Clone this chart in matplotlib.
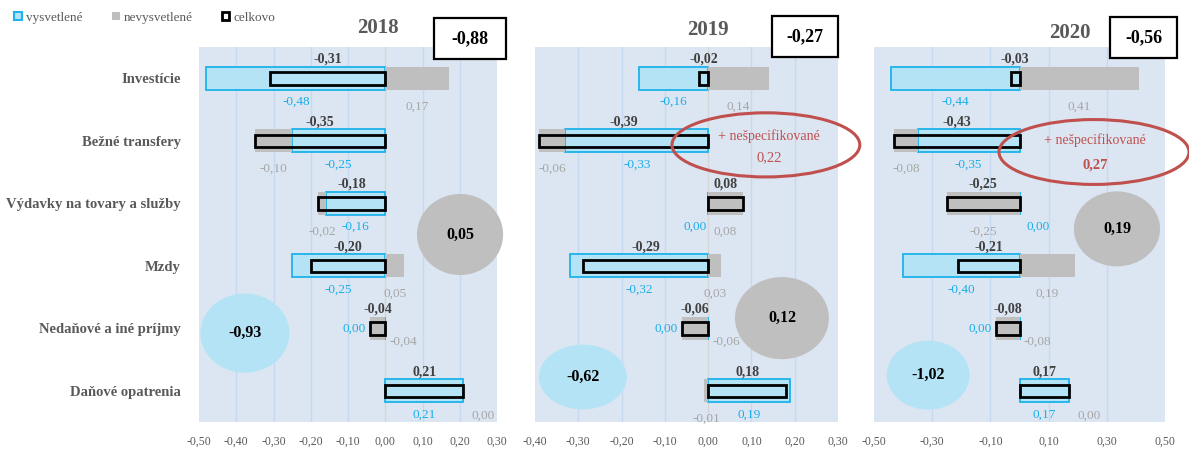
import matplotlib
matplotlib.use("Agg")
import matplotlib.pyplot as plt
from matplotlib.patches import Ellipse, Rectangle, Patch
from matplotlib.ticker import FuncFormatter, FixedLocator

plt.rcParams['font.family'] = ['Liberation Serif', 'DejaVu Serif']

# ---------------- data ----------------
categories = ["Investície", "Bežné transfery", "Výdavky na tovary a služby",
              "Mzdy", "Nedaňové a iné príjmy", "Daňové opatrenia"]
years = ["2018", "2019", "2020"]

explained_2018 = [-0.48, -0.25, -0.16, -0.25, 0.00, 0.21]
unexplained_2018 = [0.17, -0.10, -0.02, 0.05, -0.04, 0.00]
total_2018 = [-0.31, -0.35, -0.18, -0.20, -0.04, 0.21]

explained_2019 = [-0.16, -0.33, 0.00, -0.32, 0.00, 0.19]
unexplained_2019 = [0.14, -0.06, 0.08, 0.03, -0.06, -0.01]
total_2019 = [-0.02, -0.39, 0.08, -0.29, -0.06, 0.18]

explained_2020 = [-0.44, -0.35, 0.00, -0.40, 0.00, 0.17]
unexplained_2020 = [0.41, -0.08, -0.25, 0.19, -0.08, 0.00]
total_2020 = [-0.03, -0.43, -0.25, -0.21, -0.08, 0.17]

header_totals = [-0.88, -0.27, -0.56]
sum_explained = [-0.93, -0.62, -1.02]
sum_unexplained = [0.05, 0.12, 0.19]
unspecified = [None, 0.22, 0.27]

x_limits = [(-0.5, 0.3), (-0.4, 0.3), (-0.5, 0.5)]
x_ticks = [[-0.5, -0.4, -0.3, -0.2, -0.1, 0.0, 0.1, 0.2, 0.3],
           [-0.4, -0.3, -0.2, -0.1, 0.0, 0.1, 0.2, 0.3],
           [-0.5, -0.3, -0.1, 0.1, 0.3, 0.5]]

explained = [explained_2018, explained_2019, explained_2020]
unexplained = [unexplained_2018, unexplained_2019, unexplained_2020]
totals = [total_2018, total_2019, total_2020]

# ---------------- style ----------------
W, H = 1189, 453
BG = "#dce6f2"
GRID = "#c6d9f1"
BLUE_FILL = "#b5e3f6"
BLUE_EDGE = "#1db3ec"
BLUE_TXT = "#1aaee8"
GRAY = "#bfbfbf"
GRAY_TXT = "#a6a6a6"
DARK = "#404040"
LABEL = "#595959"
RED = "#c0504d"


def fmt(v):
    return f"{v:.2f}".replace(".", ",")


def lab(ax, x, y, s, color, ha='center', dx=0, size=9.5, weight='normal', z=6):
    ax.annotate(s, xy=(x, y), xytext=(dx, 0), textcoords='offset points',
                ha=ha, va='center', fontsize=size, fontweight=weight, color=color,
                zorder=z, annotation_clip=False)


fig = plt.figure(figsize=(W / 100, H / 100), dpi=100)

axes_px = [(199, 497), (535, 838), (874, 1165)]
y_top, y_bot = 47, 422

circle_gray = [(0.876, 0.50, 0.289, 0.216), (0.815, 0.277, 0.31, 0.219), (0.835, 0.515, 0.296, 0.20)]
circle_blue = [(0.154, 0.237, 0.299, 0.211), (0.158, 0.12, 0.29, 0.173), (0.186, 0.125, 0.285, 0.184)]
red_ell = [None, (0.762, 0.739, 0.62, 0.171), (0.756, 0.72, 0.653, 0.173)]
red_txt = [None, ((0.772, 0.763), (0.772, 0.705)), ((0.759, 0.752), (0.759, 0.685))]
box_pos = [(0.789, 0.968, 0.241, 0.109), (0.782, 0.973, 0.218, 0.110), (0.811, 0.971, 0.230, 0.109)]
year_pos = [(0.601, 1.051), (0.571, 1.045), (0.674, 1.037)]

BAR_H = 0.37
TOT_H = 0.20
n = len(categories)
ypos = list(range(n))

for p in range(3):
    x0, x1 = axes_px[p]
    ax = fig.add_axes([x0 / W, 1 - y_bot / H, (x1 - x0) / W, (y_bot - y_top) / H])
    ax.set_facecolor(BG)
    for s in ax.spines.values():
        s.set_visible(False)
    ax.set_xlim(*x_limits[p])
    ax.set_ylim(n - 0.5, -0.5)
    ax.xaxis.set_major_locator(FixedLocator(x_ticks[p]))
    ax.xaxis.set_major_formatter(FuncFormatter(lambda v, pos: fmt(v)))
    ax.tick_params(axis='x', length=0, labelsize=8.5, labelcolor=LABEL, pad=10)
    ax.set_axisbelow(True)
    for t in x_ticks[p]:
        if x_limits[p][0] < t < x_limits[p][1]:
            ax.axvline(t, color=("#d6d6d6" if abs(t) < 1e-9 else GRID), lw=1.0, zorder=0)
    if p == 0:
        ax.set_yticks(ypos)
        ax.set_yticklabels(categories, fontsize=10.5, fontweight='bold', color=LABEL)
        ax.tick_params(axis='y', length=0, pad=13)
    else:
        ax.set_yticks([])

    ex = explained[p]
    ux = unexplained[p]
    tt = totals[p]
    gray_left = [e if e * u > 0 else 0.0 for e, u in zip(ex, ux)]

    ax.barh(ypos, ex, height=BAR_H, color=BLUE_FILL, edgecolor=BLUE_EDGE, linewidth=1.3, zorder=2)
    ax.barh(ypos, ux, left=gray_left, height=BAR_H, color=GRAY, edgecolor='none', zorder=3)
    ax.barh(ypos, tt, height=TOT_H, facecolor='none', edgecolor='black', linewidth=2.0, zorder=4)

    for i in ypos:
        # total label above the bar
        lab(ax, tt[i] / 2, i - 0.30, fmt(tt[i]), DARK, size=10, weight='bold', z=7)

        if ex[i] == 0 and ux[i] < 0 and abs(ux[i]) < 0.1:
            # small negative unexplained only: blue zero to the left, gray to the right
            lab(ax, min(ux[i], tt[i]), i, fmt(ex[i]), BLUE_TXT, ha='right', dx=-3)
            lab(ax, 0, i + 0.22, fmt(ux[i]), GRAY_TXT, ha='left', dx=3, z=5)
            continue

        # explained label
        if ex[i] == 0:
            if ux[i] > 0:
                lab(ax, 0, i + 0.38, fmt(ex[i]), BLUE_TXT, ha='right', dx=-1)
            else:
                lab(ax, 0, i + 0.38, fmt(ex[i]), BLUE_TXT, ha='left', dx=5)
        else:
            lab(ax, ex[i] / 2, i + 0.38, fmt(ex[i]), BLUE_TXT)

        # unexplained label
        if ux[i] == 0:
            lab(ax, ex[i], i + 0.40, fmt(ux[i]), GRAY_TXT, ha='left', dx=6, z=5)
        else:
            lab(ax, gray_left[i] + ux[i] / 2, i + 0.45, fmt(ux[i]), GRAY_TXT, z=5)

    # summary circles
    cx, cy, cw, ch = circle_gray[p]
    ax.add_patch(Ellipse((cx, cy), cw, ch, transform=ax.transAxes, facecolor=GRAY,
                         edgecolor='none', zorder=5, clip_on=False))
    ax.text(cx, cy, fmt(sum_unexplained[p]), transform=ax.transAxes, ha='center', va='center',
            fontsize=11.5, fontweight='bold', color='black', zorder=6)
    cx, cy, cw, ch = circle_blue[p]
    ax.add_patch(Ellipse((cx, cy), cw, ch, transform=ax.transAxes, facecolor=BLUE_FILL,
                         edgecolor='none', zorder=5, clip_on=False))
    ax.text(cx, cy, fmt(sum_explained[p]), transform=ax.transAxes, ha='center', va='center',
            fontsize=11.5, fontweight='bold', color='black', zorder=6)

    # unspecified annotation
    if unspecified[p] is not None:
        cx, cy, cw, ch = red_ell[p]
        ax.add_patch(Ellipse((cx, cy), cw, ch, transform=ax.transAxes, facecolor='none',
                             edgecolor=RED, linewidth=2.2, zorder=8, clip_on=False))
        (t1x, t1y), (t2x, t2y) = red_txt[p]
        ax.text(t1x, t1y, "+ nešpecifikované", transform=ax.transAxes, ha='center', va='center',
                fontsize=10, color=RED, zorder=9, clip_on=False)
        ax.text(t2x, t2y, fmt(unspecified[p]), transform=ax.transAxes, ha='center', va='center',
                fontsize=10.5, color=RED, fontweight=('bold' if p == 2 else 'normal'), zorder=9,
                clip_on=False)

    # header
    yx, yy = year_pos[p]
    ax.text(yx, yy, years[p], transform=ax.transAxes, ha='center', va='center',
            fontsize=15, fontweight='bold', color=LABEL, clip_on=False)
    bx, by, bw, bh = box_pos[p]
    ax.add_patch(Rectangle((bx, by), bw, bh, transform=ax.transAxes, facecolor='white',
                           edgecolor='black', linewidth=1.6, zorder=9, clip_on=False))
    ax.text(bx + bw / 2, by + bh / 2, fmt(header_totals[p]), transform=ax.transAxes,
            ha='center', va='center', fontsize=13, fontweight='bold', color='black', zorder=10)

handles = [Patch(facecolor=BLUE_FILL, edgecolor=BLUE_EDGE, linewidth=1.5),
           Patch(facecolor=GRAY, edgecolor='none'),
           Patch(facecolor='white', edgecolor='black', linewidth=2)]
fig.legend(handles, ["vysvetlené", "nevysvetlené", "celkovo"], loc='upper left',
           bbox_to_anchor=(0.002, 1.0), ncol=3, frameon=False, fontsize=9.5,
           handlelength=0.6, handleheight=0.6, handletextpad=0.3, columnspacing=2.2,
           labelcolor=LABEL)

fig.savefig("out.png", dpi=100)
